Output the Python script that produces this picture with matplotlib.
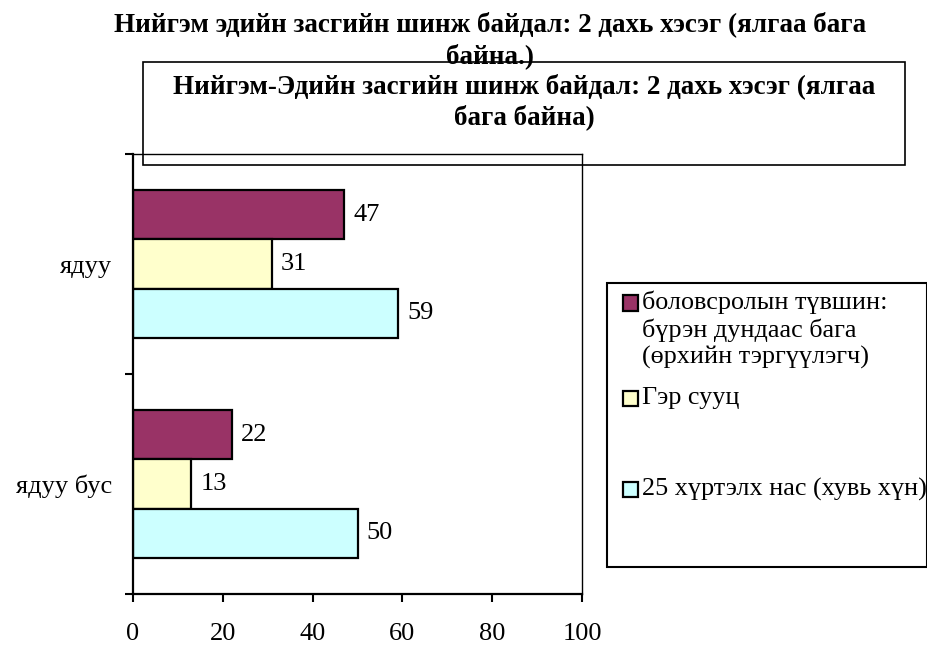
import matplotlib.pyplot as plt
from matplotlib.patches import Rectangle

# data
categories = ['ядуу бус', 'ядуу']
series_names = ['боловсролын түвшин:\nбүрэн дундаас бага\n(өрхийн тэргүүлэгч)',
                'Гэр сууц',
                '25 хүртэлх нас (хувь хүн)']
education = [22, 47]
housing = [13, 31]
age_under25 = [50, 59]
colors = ['#993366', '#FFFFCC', '#CCFFFF']

title = 'Нийгэм эдийн засгийн шинж байдал: 2 дахь хэсэг (ялгаа бага\nбайна.)'
box_title = 'Нийгэм-Эдийн засгийн шинж байдал: 2 дахь хэсэг (ялгаа\nбага байна)'

plt.rcParams['font.family'] = ['Liberation Serif', 'DejaVu Serif']

W, H = 928, 646
fig = plt.figure(figsize=(W / 100, H / 100), dpi=100)
ax = fig.add_axes([133 / W, 1 - 594 / H, (582 - 133) / W, (594 - 154) / H])

h = 0.223
ypos = [0.5, 1.5]
offsets = [h, 0, -h]
all_series = [education, housing, age_under25]
for vals, off, c in zip(all_series, offsets, colors):
    ys = [y + off for y in ypos]
    ax.barh(ys, vals, height=h, color=c, edgecolor='black', linewidth=1.6)
    for y, v in zip(ys, vals):
        ax.text(v + 2, y, str(v), va='center', ha='left', fontsize=19)

ax.set_xlim(0, 100)
ax.set_ylim(0, 2)
ax.set_xticks(range(0, 101, 20))
ax.tick_params(axis='x', labelsize=19, length=6, width=1.5, pad=15)
ax.set_yticks(ypos)
ax.set_yticklabels(categories)
ax.tick_params(axis='y', which='major', length=0, labelsize=19, pad=15)
ax.set_yticks([0, 1, 2], minor=True)
ax.tick_params(axis='y', which='minor', length=6, width=1.5)
for s in ['left', 'bottom']:
    ax.spines[s].set_linewidth(1.6)
for s in ['top', 'right']:
    ax.spines[s].set_linewidth(1.0)

# main title
fig.text(490 / W, 1 - 40 / H, title, ha='center', va='center', fontsize=19.5,
         fontweight='bold', linespacing=1.28)

# boxed title
fig.patches.append(Rectangle((143 / W, 1 - 165 / H), (905 - 143) / W, (165 - 62) / H,
                             transform=fig.transFigure, fill=False, edgecolor='black',
                             linewidth=1.2))
fig.text(524 / W, 1 - 102 / H, box_title, ha='center', va='center', fontsize=19.5,
         fontweight='bold', linespacing=1.24)

# legend
fig.patches.append(Rectangle((607 / W, 1 - 567 / H), (927 - 607) / W, (567 - 283) / H,
                             transform=fig.transFigure, fill=False, edgecolor='black',
                             linewidth=1.5))
marker_y = [303, 398, 489]
text_y = [330, 398, 489]
for name, c, my, ty in zip(series_names, colors, marker_y, text_y):
    fig.patches.append(Rectangle((623 / W, 1 - (my + 7.5) / H), 15 / W, 15 / H,
                                 transform=fig.transFigure, facecolor=c,
                                 edgecolor='black', linewidth=1.6))
    fig.text(642 / W, 1 - ty / H, name, ha='left', va='center', fontsize=18.8,
             linespacing=1.24)

fig.savefig('out.png', dpi=100)
